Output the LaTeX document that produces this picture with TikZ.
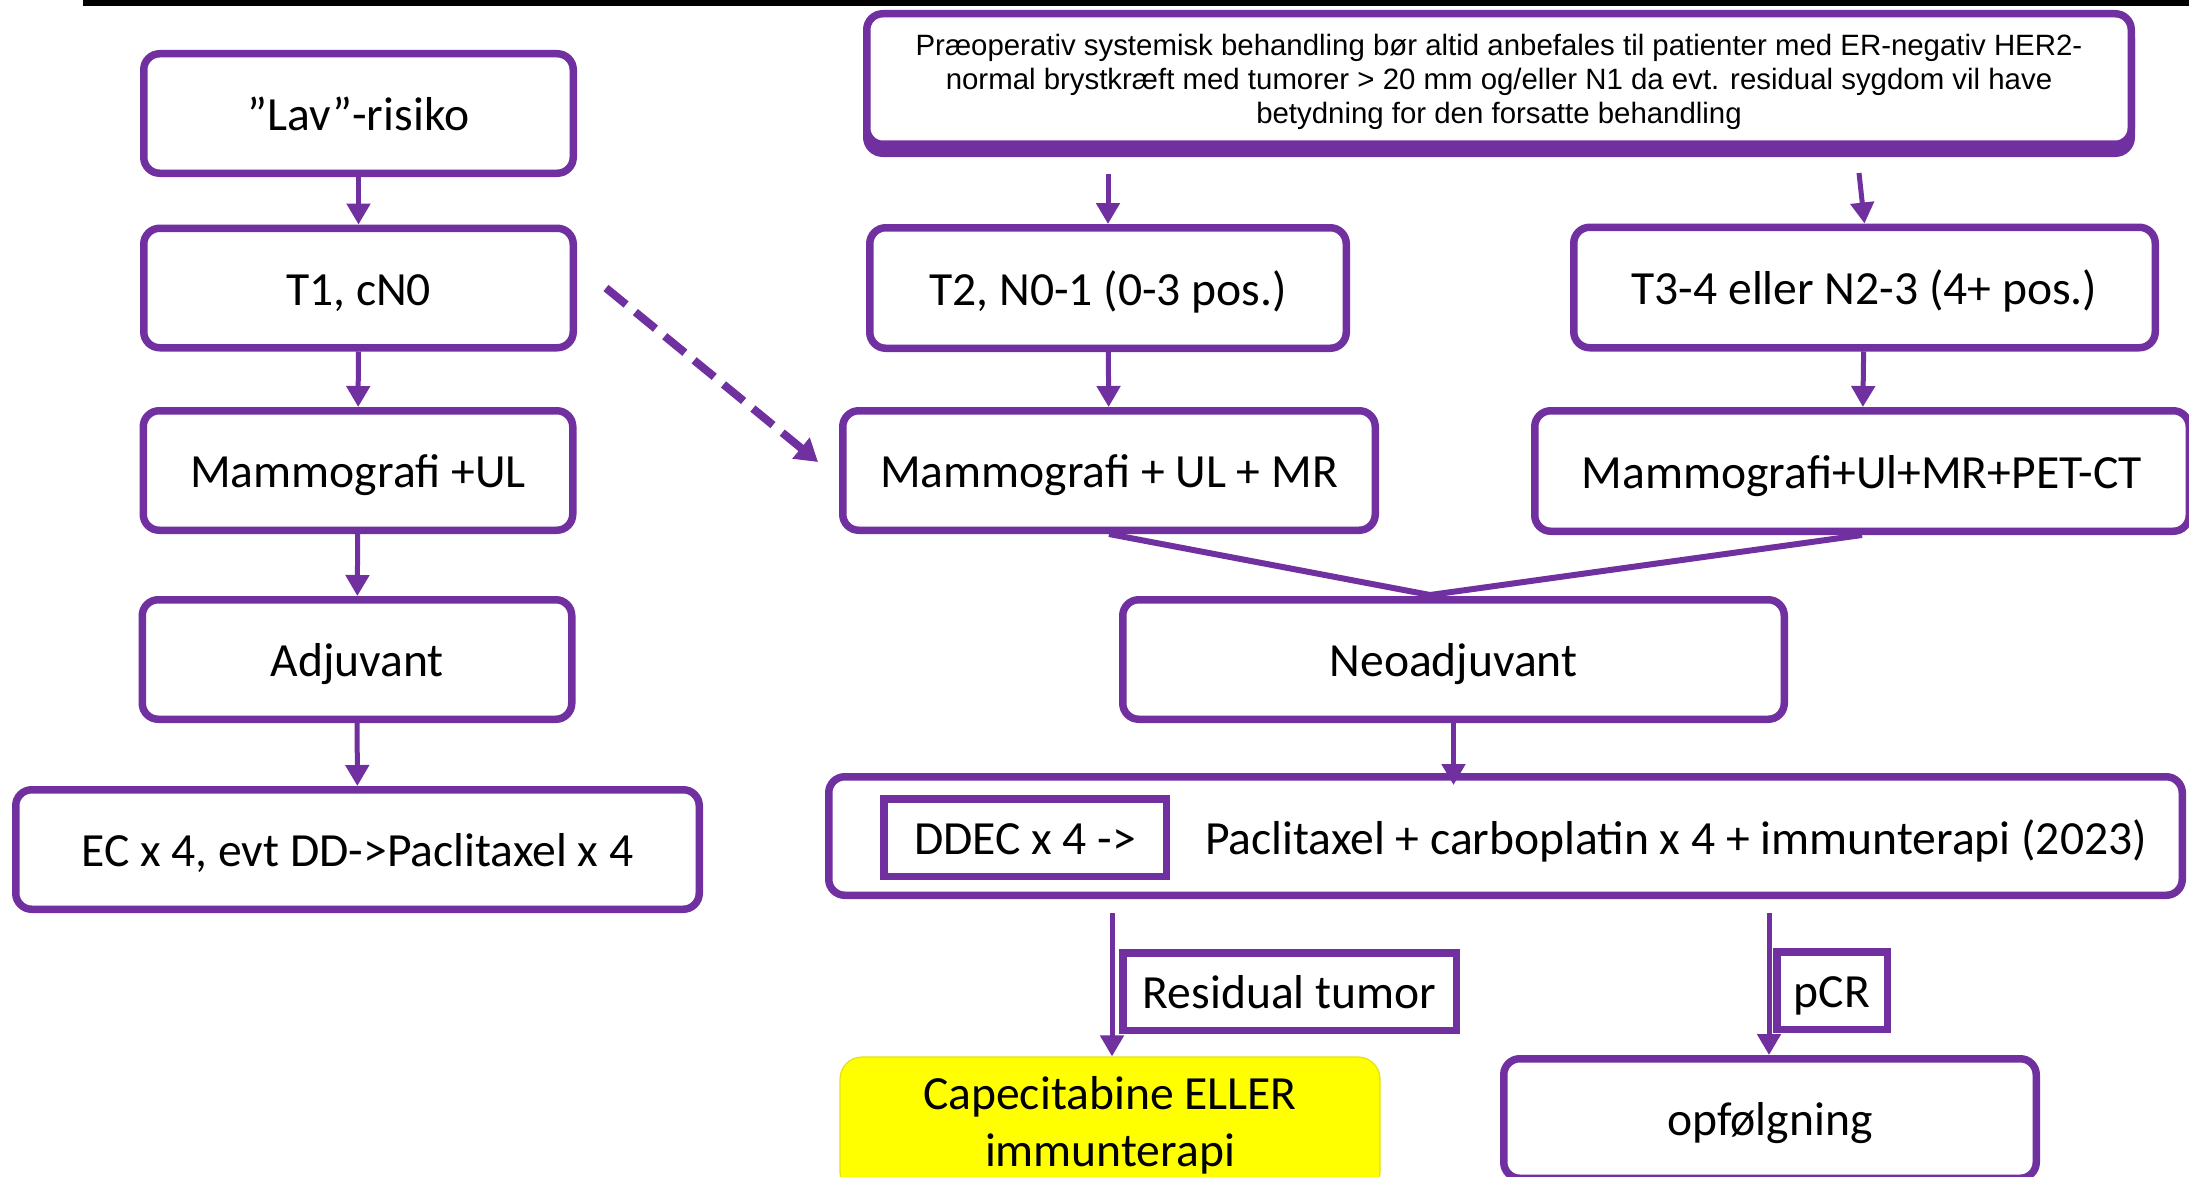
\documentclass[tikz,border=0pt]{standalone}
\usepackage{fontspec}
\setmainfont{Carlito}
\newfontfamily\arialf{Liberation Sans}
\usetikzlibrary{arrows.meta}
\definecolor{pur}{HTML}{7030A0}
\definecolor{yel}{HTML}{FFFF00}
\begin{document}
\begin{tikzpicture}[x=0.5pt,y=-0.5pt,
  boxbase/.style={draw=pur, line width=3.75pt, rounded corners=8pt, fill=white, inner sep=0pt, align=center,
              font=\fontsize{23.8pt}{29pt}\selectfont},
  box/.style={boxbase, text height=19pt, text depth=2pt},
  sqbox/.style={draw=pur, line width=3.75pt, fill=white, inner sep=0pt, align=center,
              font=\fontsize{23.8pt}{29pt}\selectfont, text height=19pt, text depth=2pt},
  arr/.style={draw=pur, line width=2.5pt, -{Triangle[width=11.5pt,length=10.5pt]}},
  lnk/.style={draw=pur, line width=3pt},
  dasharr/.style={draw=pur, line width=4pt, dash pattern=on 13pt off 6pt, -{Triangle[width=13pt,length=11pt]}},
]
\useasboundingbox (0,0) rectangle (2189,1177);
\fill[white] (0,0) rectangle (2189,1177);
\fill[black] (83,0) rectangle (2189,6);

% left column
\node[box, minimum width=214.75pt, minimum height=59.75pt] (lav) at (358.5,113.5) {”Lav”-risiko};
\node[box, minimum width=214.75pt, minimum height=59.75pt] (t1) at (358.5,288) {T1, cN0};
\node[box, minimum width=214.75pt, minimum height=59.75pt] (mam1) at (358,470.5) {Mammografi +UL};
\node[box, minimum width=214.75pt, minimum height=59.75pt] (adj) at (357,659.5) {Adjuvant};
\node[box, minimum width=341.75pt, minimum height=59.75pt] (ec) at (357.5,849.5) {EC x 4, evt DD->Paclitaxel x 4};

% top info box
\node[draw=pur, fill=pur, line width=3.75pt, rounded corners=8pt, minimum width=632.25pt, minimum height=65.25pt] (topsh) at (1499,88) {};
\node[boxbase, minimum width=632.25pt, minimum height=65.25pt, text depth=0pt, font=\arialf\fontsize{14.7pt}{17pt}\selectfont] (top) at (1499,79)
  {Præoperativ systemisk behandling bør altid anbefales til patienter med ER-negativ HER2-\\
   normal brystkræft med tumorer > 20 mm og/eller N1 da evt. residual sygdom vil have\\
   betydning for den forsatte behandling};

% right part
\node[box, minimum width=238.25pt, minimum height=60.25pt] (t2) at (1108,288) {T2, N0-1 (0-3 pos.)};
\node[box, minimum width=290.75pt, minimum height=60.25pt] (t34) at (1864.5,287.5) {T3-4 eller N2-3 (4+ pos.)};
\node[box, minimum width=266.25pt, minimum height=59.75pt] (mam2) at (1109,470.5) {Mammografi + UL + MR};
\node[box, minimum width=327.25pt, minimum height=60.25pt] (mam3) at (1862,471) {Mammografi+Ul+MR+PET-CT};
\node[box, minimum width=330.75pt, minimum height=59.75pt] (neo) at (1453.5,659.5) {Neoadjuvant};
\node[boxbase, minimum width=676.75pt, minimum height=59.25pt] (big) at (1505.5,836) {};
\node[sqbox, minimum width=141.25pt, minimum height=38.75pt] (ddec) at (1025,837.5) {DDEC x 4 ->};
\node[inner sep=0pt, font=\fontsize{23.8pt}{29pt}\selectfont, text height=19pt, text depth=2pt] (pac) at (1676,837.5) {Paclitaxel + carboplatin x 4 + immunterapi (2023)};

\node[sqbox, minimum width=166.75pt, minimum height=38.75pt] (resid) at (1289.5,991.5) {Residual tumor};
\node[sqbox, minimum width=55.25pt, minimum height=38.75pt] (pcr) at (1832,990.5) {pCR};

\node[fill=yel, draw={rgb,255:red,225;green,225;blue,20}, line width=0.6pt, rounded corners=11pt, inner sep=0pt, align=center,
      minimum width=270pt, minimum height=68.5pt, font=\fontsize{23.8pt}{28.5pt}\selectfont] (cape) at (1110,1125.5)
      {Capecitabine ELLER\\immunterapi};
\node[box, minimum width=266.25pt, minimum height=59.75pt] (opf) at (1770,1118.5) {opfølgning};

% connectors
\draw[arr] (lav) -- (t1);
\draw[arr] (t1) -- (mam1);
\draw[arr] (mam1) -- (adj);
\draw[arr] (adj) -- (ec);

\coordinate (a1) at (1108,174);
\coordinate (a2) at (1859,173);
\draw[arr] (a1) -- (t2);
\draw[arr] (a2) -- (t34.north);
\draw[arr] (t2) -- (mam2);
\draw[arr] (t34) -- (mam3);

\coordinate (nj) at (1430,595);
\draw[lnk] (mam2.south) -- (nj);
\draw[lnk] (mam3.south) -- (nj);

\draw[arr, shorten >=-6pt] (neo.south) -- (neo.south |- big.north);

\coordinate (r0) at (1112,913);
\coordinate (p0) at (1769,913);
\draw[arr] (r0) -- (r0 |- cape.north);
\draw[arr] (p0) -- (p0 |- opf.north);

\coordinate (d0) at (606,288);
\coordinate (d1) at (818,462);
\draw[dasharr] (d0) -- (d1);
\end{tikzpicture}
\end{document}
